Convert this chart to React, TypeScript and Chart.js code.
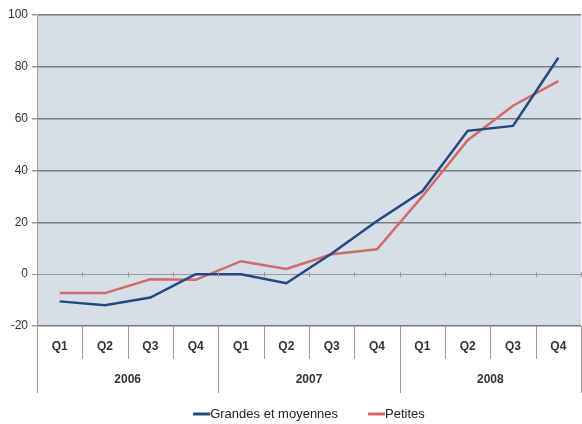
import React, { useEffect, useRef } from "react";
import { Chart, registerables } from "chart.js";

Chart.register(...registerables);

const quarters = ["Q1", "Q2", "Q3", "Q4", "Q1", "Q2", "Q3", "Q4", "Q1", "Q2", "Q3", "Q4"];
const years = ["2006", "2007", "2008"];
const grandes = [-10.5, -12, -9, 0, 0, -3.5, 8, 20.5, 32, 55.3, 57.2, 83.5];
const petites = [-7.3, -7.3, -2, -2.2, 5, 2, 7.7, 9.6, 30, 51.7, 65, 74.5];
const yTicks = { min: -20, max: 100, step: 20 };

const FONT = "'Liberation Sans', Arial, sans-serif";

const axisPlugin = {
  id: "axisPlugin",
  beforeDraw(chart: any) {
    const { ctx, chartArea } = chart;
    ctx.save();
    ctx.fillStyle = "#d6dfe8";
    ctx.fillRect(chartArea.left, chartArea.top, chartArea.right - chartArea.left, chartArea.bottom - chartArea.top);
    ctx.restore();
  },
  afterDraw(chart: any) {
    const { ctx, chartArea } = chart;
    const xs = chart.scales.x;
    const ys = chart.scales.y;
    const n = quarters.length;
    const half = (xs.getPixelForValue(1) - xs.getPixelForValue(0)) / 2;
    const bottom = chartArea.bottom;
    const zeroY = ys.getPixelForValue(0);
    ctx.save();
    ctx.strokeStyle = "#9a9a9a";
    ctx.lineWidth = 1;
    ctx.beginPath();
    ctx.moveTo(chartArea.left + 0.5, chartArea.top);
    ctx.lineTo(chartArea.left + 0.5, bottom + 67);
    ctx.stroke();
    for (let i = 0; i <= n; i++) {
      const x = Math.round(xs.getPixelForValue(0) - half + i * 2 * half) + 0.5;
      const end = i % 4 === 0 ? bottom + 67 : bottom + 33;
      if (i > 0) {
        ctx.beginPath();
        ctx.moveTo(x, bottom);
        ctx.lineTo(x, end);
        ctx.stroke();
      }
      ctx.beginPath();
      ctx.moveTo(x, zeroY - 2);
      ctx.lineTo(x, zeroY + 3);
      ctx.stroke();
    }
    ctx.fillStyle = "#333";
    ctx.font = "bold 12px " + FONT;
    ctx.textAlign = "center";
    ctx.textBaseline = "middle";
    quarters.forEach((q, i) => {
      ctx.fillText(q, xs.getPixelForValue(i), bottom + 21);
    });
    years.forEach((y, j) => {
      const cx = (xs.getPixelForValue(j * 4) + xs.getPixelForValue(j * 4 + 3)) / 2;
      ctx.fillText(y, cx, bottom + 54);
    });

    // legend
    ctx.font = "13px " + FONT;
    ctx.textAlign = "left";
    const markerW = 17;
    const gap = 30;
    const items = chart.data.datasets.map((d: any) => ({
      label: d.label,
      color: d.borderColor,
      w: ctx.measureText(d.label).width,
    }));
    const total = items.reduce((s: number, it: any) => s + markerW + it.w, 0) + gap * (items.length - 1);
    let x = (chartArea.left + chartArea.right) / 2 - total / 2;
    const ly = 414;
    items.forEach((it: any) => {
      ctx.strokeStyle = it.color;
      ctx.lineWidth = 3;
      ctx.beginPath();
      ctx.moveTo(x, ly);
      ctx.lineTo(x + markerW, ly);
      ctx.stroke();
      ctx.fillStyle = "#222";
      ctx.fillText(it.label, x + markerW, ly);
      x += markerW + it.w + gap;
    });
    ctx.restore();
  },
};

export default function App() {
  const ref = useRef<HTMLCanvasElement>(null);
  useEffect(() => {
    document.body.style.margin = "0";
    const chart = new Chart(ref.current!, {
      type: "line",
      data: {
        labels: quarters.map((q, i) => years[Math.floor(i / 4)] + " " + q),
        datasets: [
          {
            label: "Grandes et moyennes",
            data: grandes,
            borderColor: "#24497e",
            backgroundColor: "#24497e",
            borderWidth: 2.5,
            pointRadius: 0,
            tension: 0,
          },
          {
            label: "Petites",
            data: petites,
            borderColor: "#d4696b",
            backgroundColor: "#d4696b",
            borderWidth: 2.5,
            pointRadius: 0,
            tension: 0,
          },
        ],
      },
      options: {
        responsive: false,
        animation: false,
        layout: { padding: { top: 15, right: 1, left: 0, bottom: 31 } },
        plugins: {
          legend: { display: false },
          tooltip: { enabled: false },
        },
        scales: {
          x: {
            type: "category",
            offset: true,
            grid: { display: false },
            border: { display: false },
            ticks: { display: false },
            afterFit: (s: any) => {
              s.height = 67;
            },
          },
          y: {
            min: yTicks.min,
            max: yTicks.max,
            ticks: {
              stepSize: yTicks.step,
              color: "#333",
              font: { family: FONT, size: 12 },
              padding: 4,
            },
            grid: {
              color: (c: any) => (c.tick && c.tick.value === 0 ? "#9a9a9a" : "#7a7a7a"),
              lineWidth: (c: any) => (c.tick && c.tick.value === 0 ? 1 : 1.5),
              tickLength: 5,
              tickColor: "#9a9a9a",
            },
            border: { display: true, color: "#9a9a9a" },
            afterFit: (s: any) => {
              s.width = 37;
            },
          },
        },
      },
      plugins: [axisPlugin],
    });
    return () => chart.destroy();
  }, []);
  return <canvas ref={ref} width={582} height={424} style={{ display: "block" }} />;
}
